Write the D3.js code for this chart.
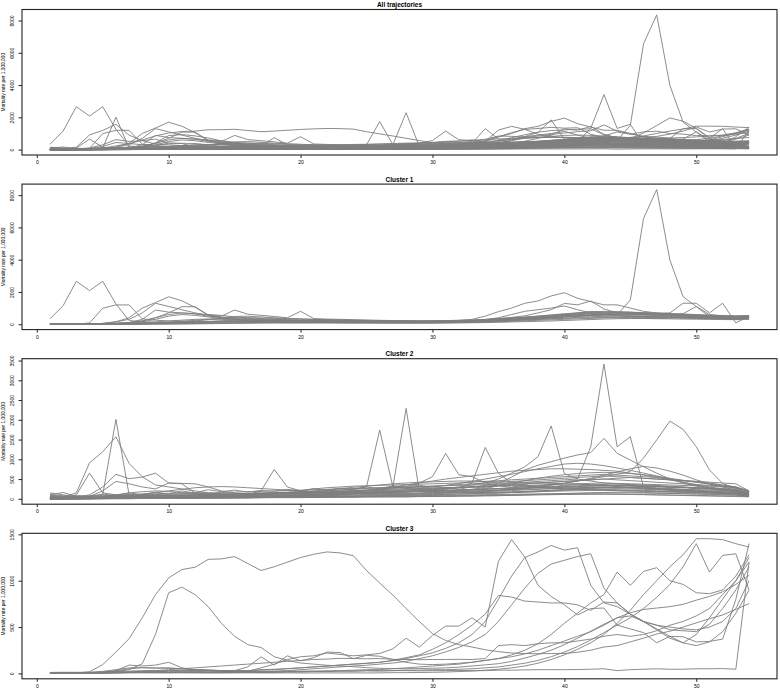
<!DOCTYPE html>
<html>
<head>
<meta charset="utf-8">
<script src="https://cdn.jsdelivr.net/npm/d3@7"></script>
<style>
  body { margin: 0; background: #fff; }
  text { font-family: "Liberation Sans", Arial, Helvetica, sans-serif; fill: #000; }
  .title { font-weight: bold; font-size: 6.5px; }
  .axis-title { font-size: 4.8px; }
  .traj { fill: none; stroke: #7f7f7f; stroke-width: 0.9; }
  .frame { fill: none; stroke: #222; stroke-width: 1.1; }
</style>
</head>
<body>
<svg id="chart" width="780" height="689"></svg>
<script>
/*
   Mortality trajectories: all of them, then one panel per cluster
*/
var weeks = d3.range(1, 55);   // time points 1..54
var panelTitles = ['All trajectories', 'Cluster 1', 'Cluster 2', 'Cluster 3'];
var yLabel = 'Mortality rate per 1,000,000';
var xTicks = [0, 10, 20, 30, 40, 50];
var yTicksAll = [0, 2000, 4000, 6000, 8000];
var yTicksC1 = [0, 2000, 4000, 6000, 8000];
var yTicksC2 = [0, 500, 1000, 1500, 2000, 2500, 3000, 3500];
var yTicksC3 = [0, 500, 1000, 1500];

var cluster1 = [
  [330, 1150, 2660, 2080, 2660, 1255, 225, 150, 105, 82,
   80, 96, 148, 205, 250, 246, 230, 204, 182, 160,
   150, 138, 132, 120, 124, 118, 110, 112, 108, 110,
   112, 120, 134, 150, 180, 222, 258, 300, 332, 360,
   385, 402, 420, 398, 380, 362, 356, 380, 402, 420,
   398, 380, 384, 402],
  [0, 0, 10, 22, 40, 60, 82, 100, 150, 200,
   250, 300, 322, 298, 280, 250, 232, 210, 190, 172,
   150, 140, 132, 120, 110, 102, 100, 98, 100, 110,
   120, 150, 200, 260, 320, 380, 420, 462, 500, 540,
   560, 580, 575, 575, 1500, 6555, 8350, 3976, 1707, 1090,
   470, 350, 300, 380],
  [0, 0, 0, 80, 990, 1195, 1195, 330, 250, 200,
   182, 160, 152, 160, 172, 180, 188, 200, 198, 204,
   190, 180, 170, 162, 150, 152, 148, 150, 152, 160,
   170, 182, 200, 230, 260, 300, 340, 380, 420, 460,
   500, 520, 518, 500, 482, 460, 440, 420, 400, 380,
   360, 342, 330, 350],
  [0, 0, 0, 0, 50, 150, 400, 1000, 1340, 1700,
   1450, 1050, 560, 400, 300, 250, 220, 200, 180, 170,
   160, 150, 140, 130, 122, 120, 118, 120, 130, 140,
   160, 180, 220, 280, 400, 600, 800, 900, 1000, 1130,
   900, 700, 600, 550, 500, 480, 460, 440, 420, 400,
   380, 360, 350, 370],
  [0, 0, 0, 0, 10, 20, 30, 50, 70, 90,
   110, 130, 150, 160, 170, 172, 170, 160, 152, 150,
   150, 148, 150, 152, 150, 148, 150, 160, 170, 200,
   220, 250, 300, 500, 780, 1000, 1300, 1440, 1750, 1954,
   1608, 1400, 1200, 1200, 1000, 800, 700, 600, 500, 450,
   420, 400, 400, 420],
  [0, 0, 0, 0, 0, 10, 20, 40, 60, 90,
   120, 150, 180, 200, 210, 200, 190, 180, 170, 160,
   150, 140, 130, 120, 110, 110, 110, 120, 130, 150,
   170, 200, 240, 290, 350, 420, 520, 700, 900, 1290,
   1200, 1437, 950, 700, 650, 600, 560, 520, 500, 480,
   460, 440, 420, 450],
  [0, 0, 0, 0, 0, 10, 20, 30, 40, 60,
   80, 100, 110, 120, 130, 130, 128, 130, 132, 130,
   130, 128, 130, 130, 120, 120, 118, 120, 122, 130,
   140, 160, 180, 200, 230, 260, 300, 340, 400, 460,
   520, 580, 640, 700, 720, 700, 680, 700, 1300, 1300,
   700, 1300, 80, 500],
  [0, 0, 0, 0, 50, 150, 300, 700, 1300, 1100,
   900, 700, 550, 450, 400, 350, 300, 280, 260, 250,
   240, 230, 220, 210, 200, 200, 190, 190, 190, 200,
   210, 230, 260, 300, 350, 400, 450, 500, 560, 620,
   680, 720, 700, 680, 650, 620, 600, 580, 560, 540,
   500, 480, 450, 460],
  [0, 0, 0, 0, 20, 50, 100, 200, 400, 700,
   1085, 1085, 570, 500, 880, 620, 550, 480, 400, 800,
   350, 320, 300, 280, 260, 240, 230, 220, 210, 210,
   210, 220, 240, 270, 300, 350, 400, 450, 500, 600,
   700, 800, 750, 700, 650, 600, 550, 600, 650, 1100,
   600, 500, 450, 480],
  [0, 0, 0, 0, 10, 40, 100, 300, 880, 750,
   700, 650, 600, 550, 450, 400, 350, 300, 280, 260,
   250, 240, 230, 220, 210, 200, 190, 180, 170, 170,
   170, 180, 190, 210, 240, 280, 330, 380, 450, 520,
   600, 650, 600, 550, 500, 470, 450, 430, 410, 400,
   390, 380, 370, 380],
  [0, 0, 0, 12, 30, 64, 100, 210, 400, 600,
   700, 640, 500, 410, 350, 300, 276, 262, 250, 238,
   232, 220, 208, 200, 196, 190, 180, 172, 168, 170,
   182, 190, 204, 220, 250, 282, 320, 362, 400, 452,
   500, 548, 600, 620, 602, 580, 560, 538, 520, 500,
   480, 462, 450, 470],
  [0, 0, 0, 0, 10, 22, 40, 60, 92, 130,
   180, 240, 300, 352, 380, 400, 382, 360, 338, 320,
   300, 280, 262, 240, 222, 200, 192, 180, 182, 180,
   190, 202, 220, 250, 292, 340, 400, 460, 520, 580,
   640, 700, 740, 760, 750, 720, 690, 660, 630, 600,
   570, 540, 520, 540],
  [0, 0, 0, 0, 0, 10, 22, 30, 50, 70,
   92, 110, 130, 150, 170, 180, 190, 188, 190, 192,
   180, 170, 160, 150, 140, 132, 130, 128, 140, 150,
   160, 180, 200, 230, 260, 300, 340, 380, 420, 460,
   500, 540, 580, 610, 640, 660, 658, 640, 600, 560,
   520, 480, 460, 500],
  [0, 0, 0, 0, 0, 5, 10, 20, 30, 40,
   50, 60, 70, 80, 90, 100, 110, 120, 130, 128,
   130, 132, 130, 122, 120, 110, 112, 100, 98, 100,
   110, 120, 140, 160, 190, 220, 260, 300, 340, 380,
   420, 460, 490, 510, 520, 522, 500, 480, 460, 440,
   420, 400, 390, 420],
  [0, 0, 0, 0, 0, 0, 5, 10, 15, 20,
   30, 40, 50, 60, 70, 80, 90, 100, 98, 100,
   102, 100, 90, 92, 90, 80, 82, 80, 78, 80,
   90, 100, 110, 130, 150, 180, 210, 240, 270, 300,
   330, 360, 390, 410, 420, 418, 410, 400, 380, 360,
   340, 320, 310, 340],
  [0, 0, 0, 0, 0, 0, 0, 5, 5, 10,
   12, 20, 30, 40, 50, 60, 70, 72, 70, 68,
   70, 72, 70, 60, 62, 60, 58, 60, 62, 60,
   70, 80, 90, 100, 120, 140, 160, 180, 200, 230,
   260, 290, 320, 340, 350, 352, 340, 330, 320, 310,
   300, 290, 280, 300],
  [0, 0, 0, 0, 0, 20, 60, 150, 300, 500,
   600, 550, 450, 350, 300, 260, 240, 220, 200, 180,
   170, 160, 150, 142, 140, 130, 132, 130, 128, 140,
   150, 170, 200, 240, 290, 350, 420, 500, 580, 650,
   700, 750, 800, 780, 740, 700, 660, 620, 580, 540,
   500, 470, 450, 480],
  [0, 0, 0, 0, 0, 0, 10, 30, 60, 100,
   150, 200, 280, 380, 480, 500, 450, 400, 360, 330,
   300, 280, 260, 250, 240, 230, 220, 210, 200, 202,
   200, 210, 220, 240, 270, 310, 360, 420, 480, 540,
   600, 650, 680, 700, 690, 670, 640, 610, 580, 560,
   540, 520, 510, 530]
];

var cluster2 = [
  [150, 100, 52, 80, 100, 2010, 100, 82, 60, 50,
   52, 60, 70, 78, 90, 100, 108, 120, 130, 138,
   150, 160, 168, 180, 190, 200, 202, 198, 190, 180,
   170, 160, 150, 152, 150, 160, 170, 180, 200, 220,
   240, 262, 280, 300, 280, 260, 240, 220, 200, 180,
   160, 150, 140, 120],
  [100, 50, 150, 911, 1190, 1570, 896, 557, 350, 300,
   250, 200, 150, 120, 100, 90, 92, 90, 100, 110,
   120, 130, 140, 150, 160, 170, 180, 190, 200, 210,
   220, 230, 240, 250, 262, 270, 280, 290, 300, 310,
   320, 330, 340, 350, 360, 350, 340, 320, 300, 280,
   260, 240, 220, 150],
  [50, 30, 100, 650, 150, 100, 80, 70, 60, 60,
   62, 70, 80, 90, 100, 110, 120, 130, 140, 150,
   160, 170, 180, 190, 200, 210, 220, 230, 240, 250,
   260, 280, 300, 320, 340, 360, 380, 400, 420, 440,
   460, 480, 500, 480, 460, 440, 420, 400, 380, 360,
   340, 320, 300, 200],
  [100, 80, 50, 100, 300, 620, 510, 550, 650, 400,
   380, 150, 120, 100, 100, 100, 110, 120, 130, 140,
   150, 160, 180, 200, 220, 240, 260, 280, 300, 320,
   340, 360, 380, 400, 420, 440, 460, 480, 500, 520,
   540, 560, 580, 560, 540, 520, 500, 480, 460, 440,
   420, 400, 380, 200],
  [50, 50, 60, 60, 70, 80, 90, 100, 110, 120,
   130, 140, 150, 160, 170, 180, 190, 200, 210, 220,
   230, 240, 250, 260, 270, 280, 290, 300, 310, 320,
   330, 340, 350, 360, 380, 400, 420, 440, 460, 480,
   500, 1320, 3410, 1316, 1570, 300, 250, 220, 200, 180,
   170, 160, 150, 130],
  [0, 0, 10, 20, 30, 40, 50, 60, 70, 80,
   90, 100, 110, 120, 130, 140, 150, 160, 170, 180,
   190, 200, 220, 240, 260, 280, 300, 320, 340, 300,
   280, 290, 300, 340, 390, 550, 730, 850, 940, 1030,
   1110, 1170, 1530, 1150, 980, 810, 650, 500, 400, 320,
   260, 220, 180, 130],
  [20, 20, 30, 30, 40, 50, 60, 70, 80, 90,
   100, 100, 110, 110, 120, 120, 130, 130, 140, 140,
   150, 150, 160, 160, 170, 170, 180, 180, 190, 190,
   200, 210, 220, 240, 260, 280, 300, 330, 360, 400,
   450, 500, 560, 620, 690, 1030, 1490, 1967, 1757, 1320,
   730, 390, 260, 100],
  [0, 0, 0, 10, 20, 30, 40, 50, 60, 70,
   80, 90, 100, 100, 110, 110, 120, 120, 130, 130,
   140, 140, 150, 150, 160, 200, 300, 2288, 200, 180,
   170, 160, 150, 160, 170, 180, 190, 200, 210, 220,
   230, 240, 250, 260, 250, 240, 230, 220, 210, 200,
   190, 180, 170, 120],
  [0, 10, 10, 20, 20, 30, 40, 50, 60, 70,
   80, 90, 100, 110, 120, 130, 140, 150, 160, 170,
   180, 200, 220, 250, 300, 1740, 300, 260, 240, 220,
   210, 200, 200, 210, 220, 230, 240, 250, 260, 270,
   280, 290, 300, 290, 280, 270, 260, 250, 240, 230,
   220, 210, 200, 130],
  [0, 0, 10, 10, 20, 20, 30, 30, 40, 50,
   60, 70, 80, 90, 100, 110, 120, 130, 140, 150,
   160, 170, 180, 200, 220, 250, 280, 300, 400, 560,
   1149, 610, 560, 400, 350, 330, 310, 290, 270, 250,
   240, 230, 220, 210, 200, 190, 180, 170, 160, 150,
   140, 130, 120, 100],
  [0, 0, 0, 10, 10, 20, 20, 30, 30, 40,
   40, 50, 50, 60, 60, 70, 70, 80, 80, 90,
   100, 110, 120, 130, 140, 150, 160, 170, 190, 210,
   240, 280, 400, 1300, 645, 400, 350, 320, 300, 280,
   260, 250, 240, 230, 220, 210, 200, 190, 180, 170,
   160, 150, 140, 110],
  [0, 0, 10, 10, 20, 20, 30, 30, 40, 40,
   50, 50, 60, 60, 70, 70, 80, 80, 90, 90,
   100, 110, 120, 130, 140, 150, 160, 180, 200, 230,
   260, 300, 350, 400, 500, 650, 810, 1067, 1843, 640,
   500, 450, 400, 380, 360, 340, 320, 300, 280, 260,
   240, 220, 200, 140],
  [50, 30, 40, 60, 80, 100, 110, 120, 130, 140,
   150, 150, 140, 130, 120, 110, 200, 744, 300, 200,
   250, 280, 300, 320, 330, 340, 350, 360, 370, 380,
   390, 400, 420, 440, 460, 480, 500, 520, 540, 560,
   580, 600, 620, 600, 580, 560, 540, 500, 460, 420,
   380, 340, 300, 200],
  [80, 50, 30, 60, 200, 440, 380, 300, 250, 400,
   390, 380, 300, 200, 150, 120, 110, 100, 100, 100,
   110, 120, 130, 140, 150, 160, 170, 180, 190, 200,
   210, 220, 230, 240, 250, 260, 270, 280, 290, 300,
   310, 320, 330, 340, 330, 320, 310, 300, 290, 280,
   270, 260, 250, 150],
  [0, 0, 0, 10, 20, 40, 60, 80, 100, 100,
   100, 90, 80, 70, 60, 60, 60, 70, 80, 90,
   100, 110, 120, 140, 160, 180, 200, 230, 260, 300,
   340, 390, 440, 500, 560, 620, 690, 760, 820, 880,
   900, 880, 840, 780, 720, 650, 580, 500, 420, 340,
   280, 220, 180, 120],
  [0, 0, 0, 0, 10, 20, 30, 40, 50, 50,
   50, 50, 50, 50, 50, 50, 60, 60, 70, 70,
   80, 80, 90, 90, 100, 100, 110, 110, 120, 130,
   140, 150, 170, 190, 210, 240, 270, 300, 340, 390,
   450, 520, 600, 680, 760, 820, 780, 700, 600, 480,
   380, 300, 220, 120],
  [20, 20, 20, 30, 40, 50, 60, 60, 60, 60,
   60, 62, 60, 58, 60, 60, 62, 60, 60, 64,
   70, 90, 120, 160, 200, 250, 300, 350, 400, 450,
   500, 540, 580, 620, 660, 700, 720, 740, 760, 760,
   750, 740, 720, 700, 650, 600, 540, 480, 420, 360,
   300, 250, 200, 130],
  [0, 0, 0, 0, 0, 10, 10, 20, 20, 30,
   30, 40, 40, 50, 50, 60, 60, 70, 70, 80,
   80, 90, 100, 120, 140, 160, 180, 200, 220, 240,
   260, 280, 300, 320, 340, 360, 380, 400, 420, 440,
   460, 480, 500, 520, 540, 520, 500, 480, 460, 440,
   400, 350, 300, 170],
  [10, 10, 10, 10, 20, 30, 40, 50, 60, 70,
   80, 90, 100, 110, 120, 130, 140, 150, 160, 170,
   180, 190, 200, 210, 220, 230, 240, 250, 260, 270,
   280, 290, 300, 310, 320, 330, 340, 350, 360, 370,
   380, 390, 400, 390, 380, 370, 360, 350, 340, 330,
   320, 300, 280, 180],
  [0, 0, 0, 0, 0, 0, 0, 10, 10, 10,
   10, 10, 20, 20, 20, 20, 30, 30, 30, 30,
   40, 40, 40, 40, 50, 50, 50, 50, 60, 60,
   60, 70, 70, 80, 80, 90, 100, 110, 120, 130,
   140, 150, 160, 170, 170, 160, 150, 140, 130, 120,
   110, 100, 90, 70],
  [30, 20, 20, 30, 50, 70, 80, 90, 90, 80,
   70, 60, 60, 50, 50, 60, 70, 80, 90, 100,
   110, 120, 120, 130, 130, 140, 140, 150, 150, 160,
   170, 180, 190, 200, 220, 240, 260, 280, 300, 320,
   330, 340, 350, 340, 320, 300, 280, 260, 240, 220,
   200, 180, 160, 110],
  [0, 0, 0, 0, 10, 20, 30, 40, 40, 40,
   40, 40, 30, 30, 30, 30, 40, 40, 50, 50,
   60, 60, 70, 70, 80, 80, 90, 90, 100, 100,
   110, 120, 130, 140, 150, 160, 180, 200, 220, 240,
   260, 280, 290, 300, 290, 280, 260, 240, 220, 200,
   180, 160, 140, 90],
  [5, 5, 5, 5, 10, 15, 20, 25, 30, 35,
   40, 40, 40, 40, 40, 40, 40, 40, 40, 40,
   40, 45, 50, 55, 60, 65, 70, 75, 80, 85,
   90, 95, 100, 105, 110, 115, 120, 125, 130, 135,
   140, 145, 150, 150, 150, 145, 140, 135, 130, 125,
   120, 110, 100, 70],
  [60, 40, 90, 50, 120, 80, 150, 100, 170, 120,
   200, 150, 230, 180, 220, 170, 210, 190, 240, 200,
   260, 210, 270, 240, 300, 250, 330, 280, 300, 250,
   290, 240, 310, 260, 330, 290, 350, 300, 370, 330,
   380, 340, 360, 310, 340, 300, 330, 280, 300, 250,
   280, 230, 200, 130],
  [0, 20, 10, 30, 60, 100, 150, 180, 200, 190,
   160, 130, 110, 100, 90, 100, 120, 140, 160, 180,
   200, 230, 260, 290, 320, 350, 380, 400, 420, 430,
   440, 450, 450, 440, 430, 420, 410, 400, 390, 380,
   370, 360, 350, 340, 330, 320, 310, 300, 290, 280,
   260, 240, 220, 150],
  [100, 160, 60, 40, 30, 50, 80, 120, 160, 200,
   240, 280, 300, 310, 300, 280, 260, 240, 220, 200,
   180, 170, 160, 150, 140, 130, 130, 130, 140, 150,
   170, 200, 240, 290, 340, 400, 460, 520, 570, 610,
   640, 660, 670, 660, 640, 610, 570, 520, 470, 420,
   370, 320, 270, 180],
  [40, 30, 20, 20, 30, 40, 40, 50, 40, 30,
   30, 25, 20, 20, 25, 30, 30, 35, 40, 40,
   45, 50, 50, 55, 60, 60, 62, 65, 70, 72,
   75, 80, 85, 90, 95, 100, 105, 110, 112, 115,
   118, 120, 118, 115, 110, 105, 100, 95, 90, 85,
   80, 75, 70, 60],
  [0, 0, 5, 5, 10, 10, 15, 15, 20, 20,
   20, 22, 25, 28, 30, 32, 35, 38, 40, 45,
   50, 55, 60, 66, 72, 78, 85, 92, 100, 108,
   116, 124, 132, 140, 150, 160, 170, 180, 190, 198,
   205, 210, 212, 210, 205, 198, 190, 180, 170, 160,
   150, 135, 120, 90],
  [20, 10, 10, 15, 20, 30, 35, 30, 28, 25,
   22, 20, 20, 22, 25, 28, 30, 32, 34, 36,
   38, 40, 42, 44, 46, 48, 50, 52, 55, 58,
   62, 66, 70, 75, 80, 86, 92, 98, 104, 110,
   114, 118, 120, 118, 114, 108, 100, 92, 84, 76,
   70, 64, 58, 50],
  [10, 5, 5, 10, 20, 60, 90, 70, 50, 40,
   45, 50, 55, 60, 62, 65, 68, 70, 75, 80,
   85, 90, 95, 100, 108, 115, 120, 128, 135, 142,
   150, 160, 170, 182, 195, 210, 225, 240, 255, 270,
   280, 290, 295, 290, 280, 265, 250, 230, 210, 190,
   170, 150, 130, 100]
];

var cluster3 = [
  [0, 2, 6, 18, 95, 230, 375, 600, 850, 1030,
   1120, 1145, 1230, 1235, 1260, 1185, 1110, 1150, 1200, 1250,
   1285, 1310, 1300, 1270, 1110, 975, 845, 700, 560, 430,
   355, 310, 285, 255, 235, 220, 215, 212, 215, 215,
   228, 250, 285, 300, 340, 380, 425, 455, 500, 545,
   590, 630, 690, 753],
  [0, 0, 3, 6, 12, 22, 40, 105, 420, 870,
   930, 850, 720, 540, 400, 310, 280, 180, 140, 112,
   100, 88, 80, 72, 62, 55, 52, 50, 52, 56,
   60, 68, 80, 92, 105, 130, 165, 205, 250, 310,
   380, 455, 530, 600, 655, 690, 705, 720, 745, 790,
   830, 880, 960, 1058],
  [5, 6, 4, 12, 22, 40, 60, 62, 58, 60,
   50, 42, 30, 22, 16, 22, 60, 100, 150, 180,
   190, 220, 205, 190, 200, 215, 265, 380, 283, 409,
   510, 510, 600, 500, 1210, 1443, 1255, 950, 830, 740,
   630, 700, 705, 520, 480, 440, 330, 400, 395, 340,
   345, 370, 800, 1400],
  [0, 0, 2, 4, 10, 28, 50, 62, 58, 55,
   48, 42, 38, 30, 28, 30, 40, 45, 52, 60,
   70, 78, 90, 100, 108, 120, 138, 160, 190, 222,
   270, 330, 420, 560, 800, 1050, 1250, 1310, 1380, 1330,
   1355, 950, 760, 720, 640, 560, 480, 400, 330, 300,
   340, 450, 650, 897],
  [5, 4, 6, 5, 6, 10, 12, 15, 20, 26,
   30, 32, 30, 25, 20, 18, 22, 25, 30, 40,
   50, 60, 70, 80, 88, 100, 112, 130, 160, 190,
   232, 280, 340, 420, 560, 740, 920, 1080, 1180, 1220,
   1260, 1291, 920, 760, 640, 560, 470, 380, 330, 420,
   600, 800, 1000, 1201],
  [10, 10, 12, 10, 15, 20, 25, 30, 32, 30,
   30, 28, 30, 30, 32, 30, 35, 40, 50, 60,
   70, 80, 90, 100, 110, 120, 140, 170, 200, 260,
   330, 420, 520, 640, 841, 823, 780, 770, 760, 760,
   740, 680, 770, 760, 640, 560, 520, 470, 460, 450,
   530, 700, 900, 1148],
  [0, 0, 0, 2, 5, 6, 10, 10, 12, 10,
   10, 10, 8, 10, 10, 12, 10, 15, 20, 20,
   22, 25, 30, 35, 40, 42, 50, 60, 70, 80,
   90, 100, 120, 140, 160, 200, 250, 320, 420, 540,
   650, 760, 850, 1093, 950, 1100, 1140, 1000, 960, 870,
   860, 900, 1050, 1280],
  [0, 0, 0, 0, 0, 4, 5, 6, 5, 5,
   6, 5, 5, 4, 5, 6, 5, 5, 6, 5,
   5, 6, 5, 6, 5, 6, 8, 8, 10, 12,
   15, 20, 25, 35, 45, 60, 80, 110, 150, 200,
   260, 330, 420, 540, 680, 850, 1000, 1150, 1280, 1453,
   1453, 1443, 1399, 1363],
  [0, 0, 0, 2, 5, 6, 10, 10, 12, 10,
   10, 12, 10, 10, 12, 10, 10, 10, 15, 15,
   20, 20, 25, 25, 30, 30, 30, 35, 35, 40,
   40, 45, 50, 60, 70, 90, 110, 140, 180, 230,
   290, 360, 440, 520, 600, 700, 820, 960, 1150, 1399,
   1093, 1273, 1290, 900],
  [10, 12, 10, 10, 12, 15, 16, 20, 20, 22,
   20, 20, 22, 20, 20, 20, 22, 20, 25, 25,
   25, 26, 25, 25, 28, 25, 30, 30, 28, 30,
   30, 32, 30, 30, 35, 35, 38, 40, 40, 40,
   42, 45, 50, 30, 40, 45, 50, 45, 45, 50,
   50, 52, 45, 1200],
  [5, 5, 6, 5, 10, 30, 90, 80, 90, 120,
   60, 40, 35, 30, 30, 70, 179, 90, 190, 135,
   170, 230, 225, 160, 195, 185, 150, 120, 100, 95,
   100, 110, 120, 140, 160, 180, 210, 250, 300, 350,
   400, 450, 520, 600, 620, 560, 520, 500, 480, 470,
   500, 560, 700, 1000],
  [0, 0, 0, 5, 8, 10, 15, 22, 30, 40,
   50, 60, 70, 80, 90, 100, 110, 120, 130, 140,
   150, 155, 162, 160, 158, 160, 152, 150, 148, 150,
   150, 152, 150, 160, 300, 310, 300, 320, 330, 330,
   350, 370, 400, 420, 400, 420, 460, 520, 560, 620,
   700, 850, 1000, 1250]
];

var panels = [
  {title: panelTitles[0], series: cluster1.concat(cluster2, cluster3), yTicks: yTicksAll},
  {title: panelTitles[1], series: cluster1, yTicks: yTicksC1},
  {title: panelTitles[2], series: cluster2, yTicks: yTicksC2},
  {title: panelTitles[3], series: cluster3, yTicks: yTicksC3}
];

var left = 22, right = 777;
var firstTop = 9.5, boxH = 145.5, rowStep = 174.6;

// R style axis range: 4% extra on each side
var span = weeks[weeks.length - 1] - weeks[0];
var x = d3.scaleLinear()
    .domain([weeks[0] - span * 0.04, weeks[weeks.length - 1] + span * 0.04])
    .range([left, right]);

var svg = d3.select('#chart');

panels.forEach(function(p, i) {
  var top = firstTop + i * rowStep;
  var bottom = top + boxH;

  var ext = d3.extent(d3.merge(p.series));
  var pad = (ext[1] - ext[0]) * 0.04;
  var y = d3.scaleLinear()
      .domain([ext[0] - pad, ext[1] + pad])
      .range([bottom, top]);

  var g = svg.append('g').attr('class', 'panel');

  var line = d3.line()
      .x(function(d, j) { return x(weeks[j]); })
      .y(function(d) { return y(d); });

  g.append('g')
      .selectAll('path')
      .data(p.series)
      .enter().append('path')
      .attr('class', 'traj')
      .attr('d', line);

  g.append('rect')
      .attr('class', 'frame')
      .attr('x', left)
      .attr('y', top)
      .attr('width', right - left)
      .attr('height', boxH);

  // x axis
  var xa = g.append('g')
      .attr('transform', 'translate(0,' + bottom + ')')
      .call(d3.axisBottom(x).tickValues(xTicks).tickSize(3).tickFormat(d3.format('d')));
  xa.select('.domain').remove();
  xa.selectAll('line').attr('stroke', '#222');
  xa.selectAll('text')
      .attr('y', 5.4)
      .attr('dy', '0.71em')
      .style('font-family', '"Liberation Sans", Arial, sans-serif')
      .style('font-size', '5px');

  // y axis, labels turned like R's las = 0
  var ya = g.append('g')
      .attr('transform', 'translate(' + left + ',0)')
      .call(d3.axisLeft(y).tickValues(p.yTicks).tickSize(3.5).tickFormat(d3.format('d')));
  ya.select('.domain').remove();
  ya.selectAll('line').attr('stroke', '#222');
  ya.selectAll('text')
      .attr('x', 0)
      .attr('y', -8.3)
      .attr('dy', 0)
      .attr('text-anchor', 'middle')
      .attr('transform', 'rotate(-90)')
      .style('font-family', '"Liberation Sans", Arial, sans-serif')
      .style('font-size', '5px');

  g.append('text')
      .attr('class', 'axis-title')
      .attr('text-anchor', 'middle')
      .attr('transform', 'translate(5.2,' + (top + bottom) / 2 + ') rotate(-90)')
      .text(yLabel);

  g.append('text')
      .attr('class', 'title')
      .attr('text-anchor', 'middle')
      .attr('x', (left + right) / 2)
      .attr('y', top - 2.4)
      .text(p.title);
});
</script>
</body>
</html>
